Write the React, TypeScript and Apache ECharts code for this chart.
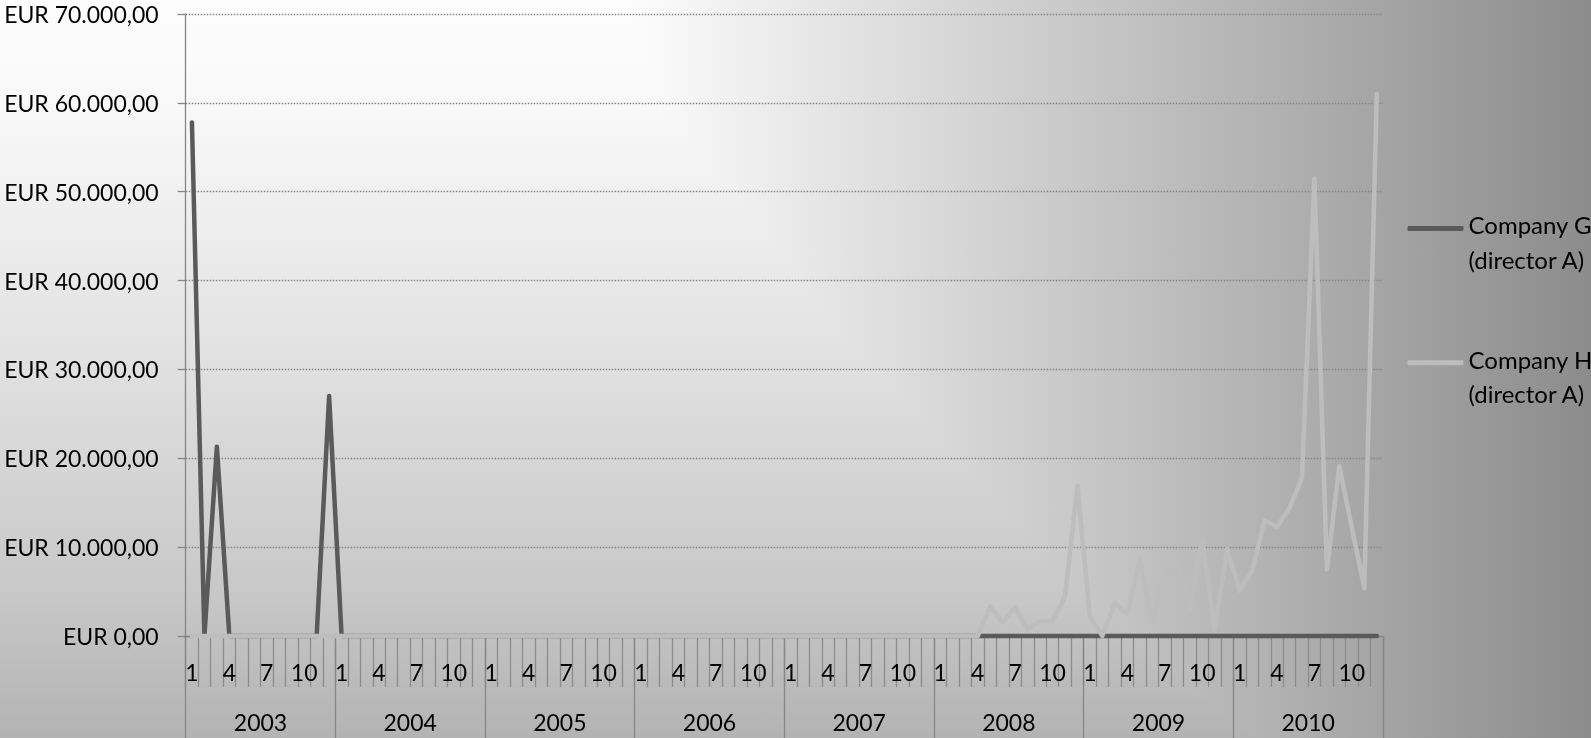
import React, { useEffect, useRef } from "react";
import * as echarts from "echarts";

const years = ["2003", "2004", "2005", "2006", "2007", "2008", "2009", "2010"];
const months = ["1", "2", "3", "4", "5", "6", "7", "8", "9", "10", "11", "12"];
const seriesNames = ["Company G (director A)", "Company H (director A)"];

// EUR per month, Jan 2003 .. Dec 2010
const companyG = [
  57800, 0, 21300, 0, 0, 0, 0, 0, 0, 0, 0, 27000, // 2003
  0, 0, 0, 0, 0, 0, 0, 0, 0, 0, 0, 0, // 2004
  0, 0, 0, 0, 0, 0, 0, 0, 0, 0, 0, 0, // 2005
  0, 0, 0, 0, 0, 0, 0, 0, 0, 0, 0, 0, // 2006
  0, 0, 0, 0, 0, 0, 0, 0, 0, 0, 0, 0, // 2007
  0, 0, 0, 0, 0, 0, 0, 0, 0, 0, 0, 0, // 2008
  0, 0, 0, 0, 0, 0, 0, 0, 0, 0, 0, 0, // 2009
  0, 0, 0, 0, 0, 0, 0, 0, 0, 0, 0, 0, // 2010
];
const companyH = [
  0, 0, 0, 0, 0, 0, 0, 0, 0, 0, 0, 0, // 2003
  0, 0, 0, 0, 0, 0, 0, 0, 0, 0, 0, 0, // 2004
  0, 0, 0, 0, 0, 0, 0, 0, 0, 0, 0, 0, // 2005
  0, 0, 0, 0, 0, 0, 0, 0, 0, 0, 0, 0, // 2006
  0, 0, 0, 0, 0, 0, 0, 0, 0, 0, 0, 0, // 2007
  0, 0, 0, 0, 3300, 1500, 3200, 750, 1700, 1700, 4400, 16900, // 2008
  2200, 0, 3700, 2500, 8500, 1700, 6900, 8800, 2950, 10900, 700, 9800, // 2009
  5100, 7300, 13000, 12300, 14400, 17800, 51500, 7500, 19100, 12200, 5400, 61000, // 2010
];

const yMin = 0;
const yMax = 70000;
const yStep = 10000;

function formatEUR(v: number): string {
  const s = String(Math.round(v));
  const withDots = s.replace(/\B(?=(\d{3})+(?!\d))/g, ".");
  return "EUR " + withDots + ",00";
}

const FONT = "Lato";
const AXIS_GRAY = "#868686";

export default function App() {
  const ref = useRef<HTMLDivElement>(null);

  useEffect(() => {
    if (!ref.current) return;
    const chart = echarts.init(ref.current, undefined, { renderer: "svg" });
    const monthCats = years.flatMap((y) => months.map((m) => m));

    chart.setOption({
      animation: false,
      backgroundColor: "transparent",
      grid: {
        left: 185.7,
        right: 208,
        top: 14,
        bottom: 102,
        containLabel: false,
        outerBoundsMode: "none",
      },
      legend: {
        orient: "vertical",
        left: 1407.5,
        top: 189,
        padding: 0,
        icon: "roundRect",
        itemWidth: 56,
        itemHeight: 5,
        itemGap: 52,
        selectedMode: false,
        formatter: (name: string) => {
          const parts = name.split(" (");
          return "{e| }\n{t|" + parts[0] + "}\n{t|(" + parts[1] + "}";
        },
        textStyle: {
          fontFamily: FONT,
          fontSize: 24,
          color: "#000",
          rich: {
            e: { fontFamily: FONT, fontSize: 10, lineHeight: 27 },
            t: { fontFamily: FONT, fontSize: 24, lineHeight: 34.5, color: "#000" },
          },
        },
        data: seriesNames,
      },
      xAxis: [
        {
          type: "category",
          data: monthCats,
          position: "bottom",
          boundaryGap: true,
          axisLine: { show: true, lineStyle: { color: AXIS_GRAY, width: 1.3 } },
          axisTick: { show: true, interval: 0, length: 51, lineStyle: { color: "#8c8c8c", width: 1.3 } },
          axisLabel: {
            interval: (idx: number) => idx % 3 === 0,
            margin: 24,
            fontFamily: FONT,
            fontSize: 23,
            color: "#000",
          },
          splitLine: { show: false },
        },
        {
          type: "category",
          data: years,
          position: "bottom",
          boundaryGap: true,
          axisLine: { show: false },
          axisTick: { show: true, interval: 0, length: 102, lineStyle: { color: AXIS_GRAY, width: 1.3 } },
          axisLabel: { interval: 0, margin: 74, fontFamily: FONT, fontSize: 23, color: "#000" },
          splitLine: { show: false },
        },
      ],
      yAxis: {
        type: "value",
        min: yMin,
        max: yMax,
        interval: yStep,
        axisLine: { show: true, lineStyle: { color: AXIS_GRAY, width: 1.3 } },
        axisTick: { show: true, length: 8, lineStyle: { color: AXIS_GRAY, width: 1.3 } },
        axisLabel: {
          margin: 27,
          formatter: (v: number) => formatEUR(v),
          fontFamily: FONT,
          fontSize: 23,
          color: "#000",
        },
        splitLine: { show: true, lineStyle: { color: AXIS_GRAY, type: [1.5, 1.5], width: 1.3 } },
      },
      series: [
        {
          name: seriesNames[0],
          type: "line",
          data: companyG,
          symbol: "none",
          clip: false,
          z: 3,
          itemStyle: { color: "#5a5a5a" },
          lineStyle: { color: "#5a5a5a", width: 4.5, cap: "round", join: "round" },
        },
        {
          name: seriesNames[1],
          type: "line",
          data: companyH,
          symbol: "none",
          clip: false,
          z: 4,
          itemStyle: { color: "#bdbdbd" },
          lineStyle: { color: "#bdbdbd", width: 4.5, cap: "round", join: "round" },
        },
      ],
    });

    return () => chart.dispose();
  }, []);

  return (
    <div
      ref={ref}
      style={{
        position: "fixed",
        left: 0,
        top: 0,
        width: 1591,
        height: 738,
        backgroundImage:
          "linear-gradient(to right, #ffffff 0%, #ffffff 38%, #8c8c8c 100%), linear-gradient(to bottom, #fdfdfd 0%, #f8f8f8 15%, #e0e0e0 50%, #c8c8c8 80%, #b3b3b3 100%)",
        backgroundBlendMode: "darken",
      }}
    />
  );
}
